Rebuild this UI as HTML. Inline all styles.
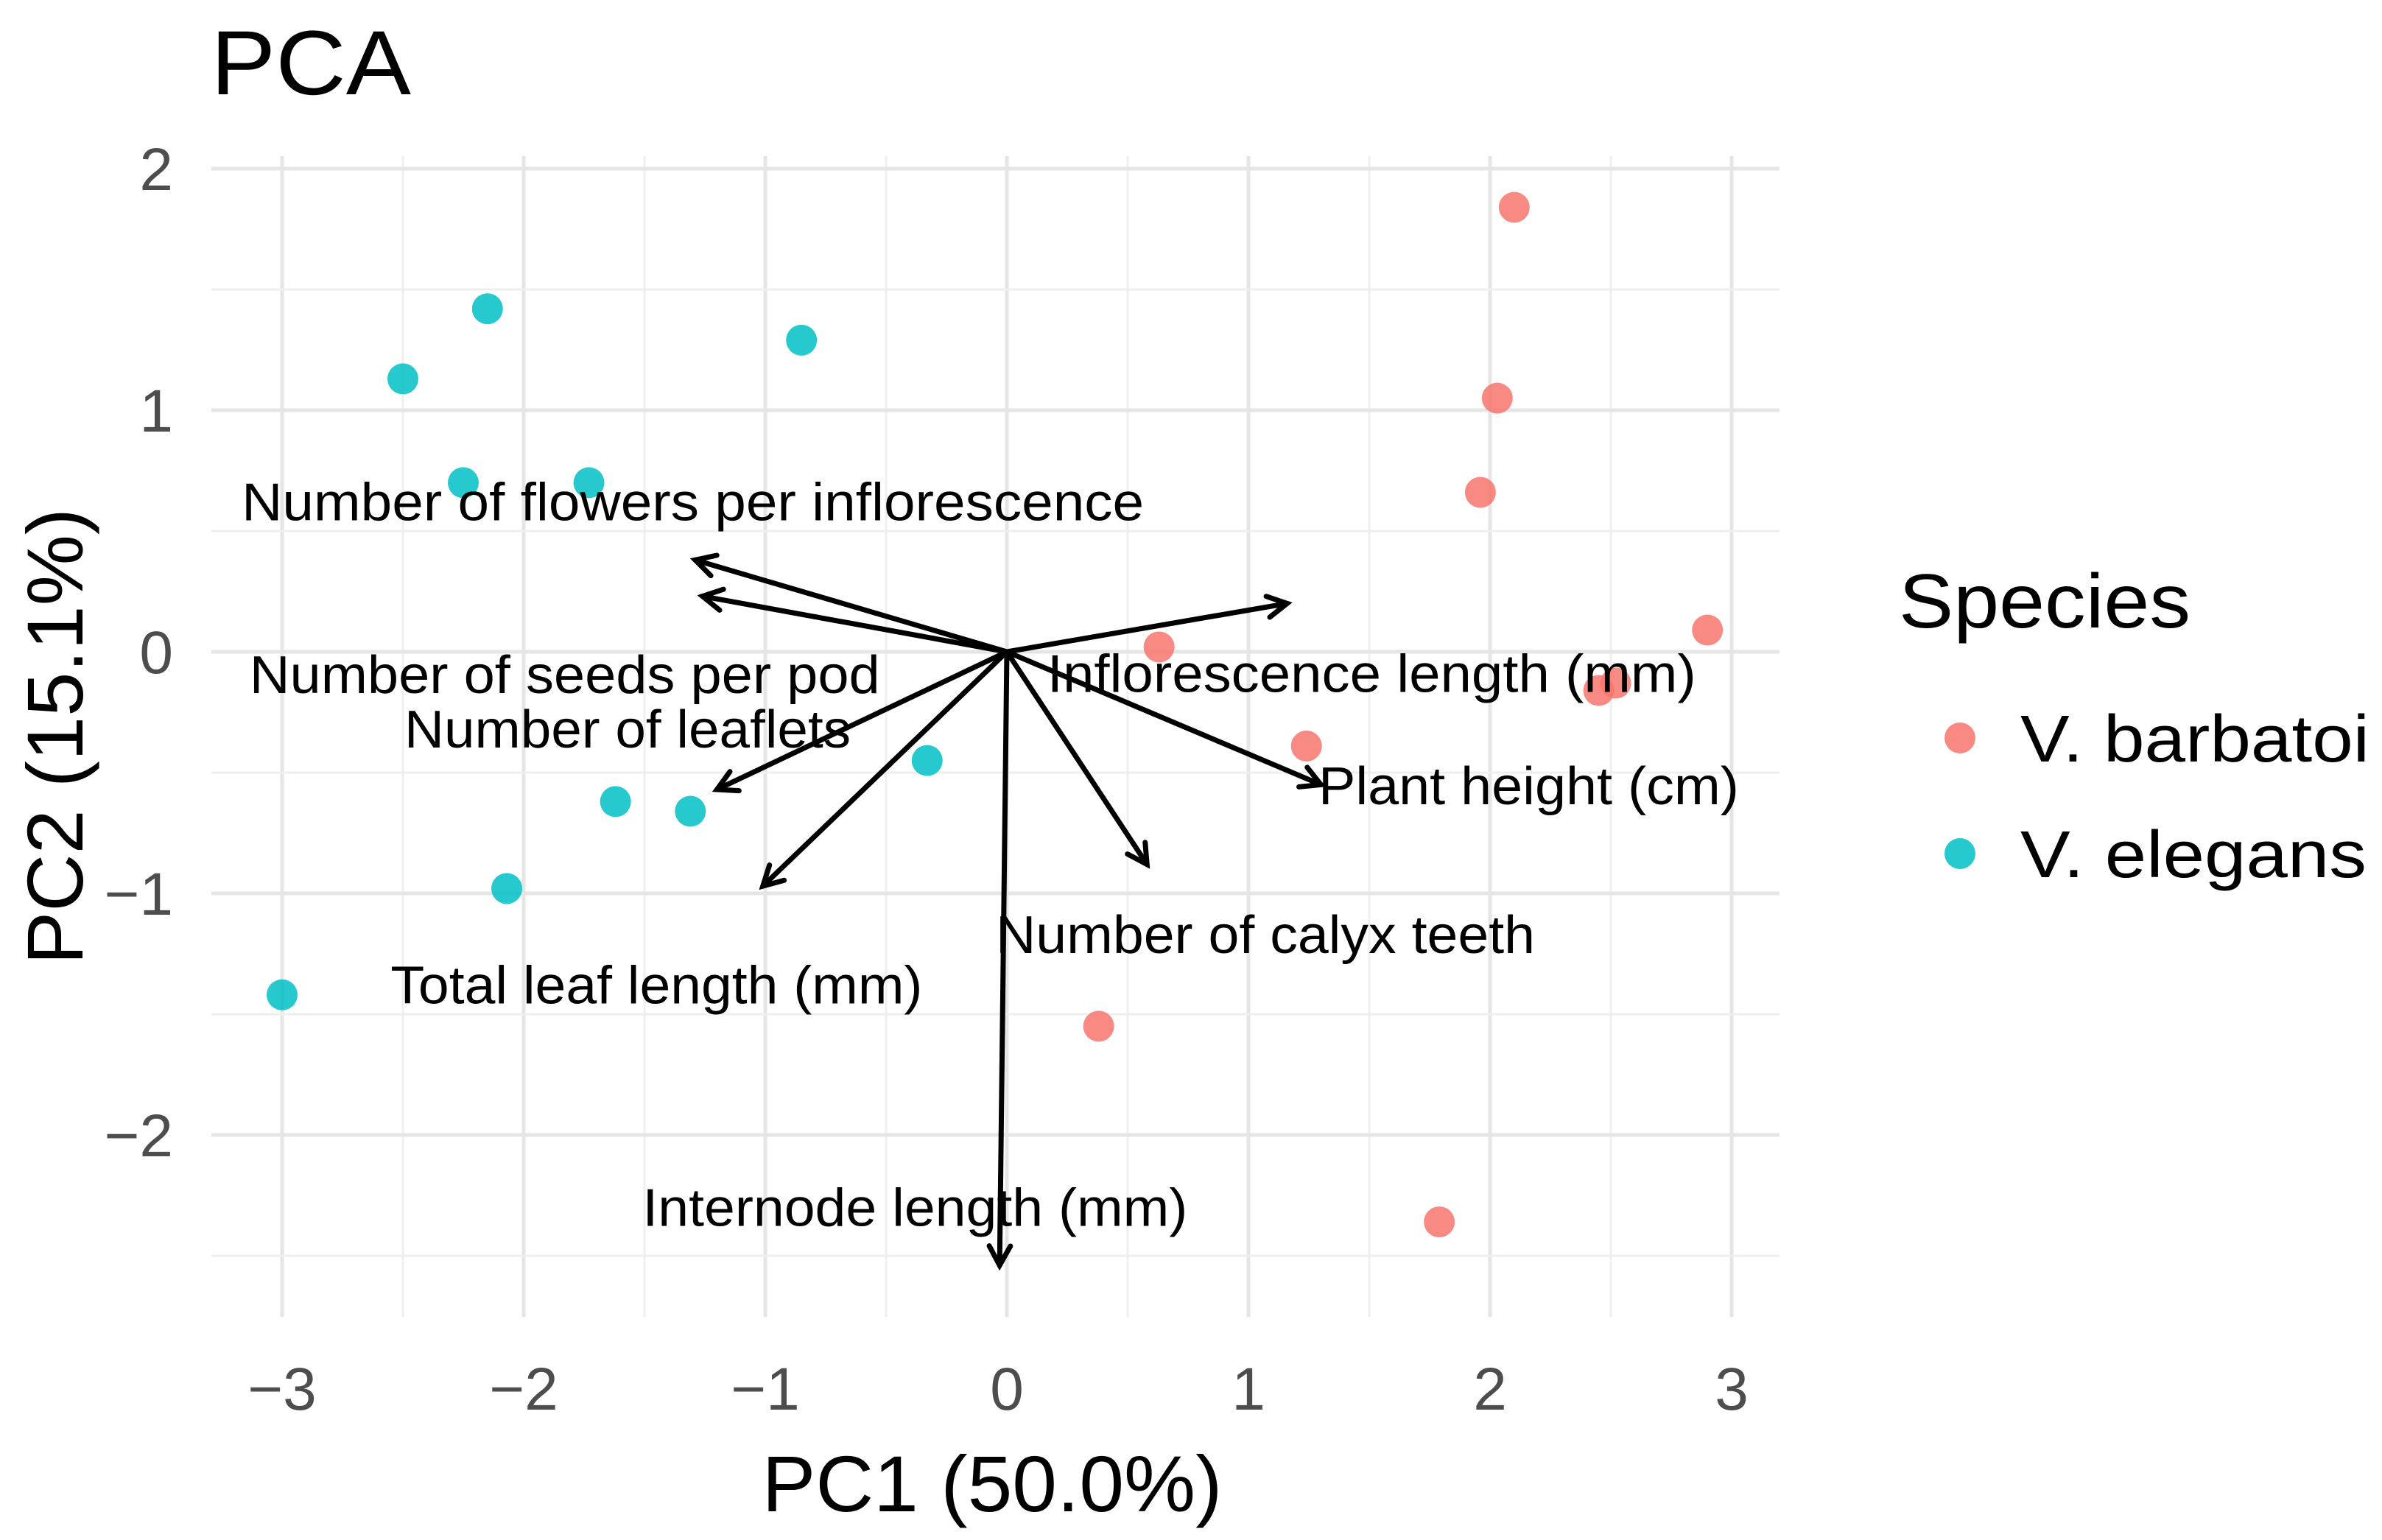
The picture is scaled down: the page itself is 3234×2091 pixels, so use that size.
<!DOCTYPE html>
<html><head><meta charset="utf-8"><style>
html,body{margin:0;padding:0;background:#fff;}
svg{display:block;font-family:"Liberation Sans",Arial,sans-serif;}
</style></head><body>
<svg id="chart" width="3234" height="2091" viewBox="0 0 3234 2091" xmlns="http://www.w3.org/2000/svg">
<text x="286" y="128" font-size="124" fill="#000" textLength="272" lengthAdjust="spacingAndGlyphs">PCA</text>
<g id="grid"></g>
<g id="arrows"></g>
<g id="points"></g>
<g id="labels"></g>
<g id="ticks"></g>
<text x="1347" y="2052" font-size="108" text-anchor="middle" fill="#000" textLength="625" lengthAdjust="spacingAndGlyphs">PC1 (50.0%)</text>
<text transform="translate(112,1000) rotate(-90)" font-size="108" text-anchor="middle" fill="#000" textLength="620" lengthAdjust="spacingAndGlyphs">PC2 (15.1%)</text>
<g>
<text x="2578" y="852" font-size="104" fill="#000" textLength="396" lengthAdjust="spacingAndGlyphs">Species</text>
<circle cx="2661" cy="1002" r="21" fill="#F8766D" fill-opacity="0.85"/>
<text x="2743" y="1034" font-size="90" fill="#000" textLength="474" lengthAdjust="spacingAndGlyphs">V. barbatoi</text>
<circle cx="2661" cy="1159" r="21" fill="#00BFC4" fill-opacity="0.85"/>
<text x="2743" y="1191" font-size="90" fill="#000" textLength="470" lengthAdjust="spacingAndGlyphs">V. elegans</text>
</g>
</svg>
<script>
const xTicks=[-3,-2,-1,0,1,2,3];
const yTicks=[-2,-1,0,1,2];
const elegansX=[-2.5,-2.15,-0.85,-2.25,-1.73,-0.33,-1.62,-1.31,-2.07,-3.0];
const elegansY=[1.13,1.42,1.29,0.7,0.7,-0.45,-0.62,-0.66,-0.98,-1.42];
const barbatoiX=[2.1,2.03,1.96,2.9,0.63,2.45,2.52,1.24,0.38,1.79];
const barbatoiY=[1.84,1.05,0.66,0.09,0.02,-0.16,-0.13,-0.39,-1.55,-2.36];
const loadingNames=["Number of flowers per inflorescence","Number of seeds per pod","Inflorescence length (mm)","Plant height (cm)","Number of calyx teeth","Number of leaflets","Total leaf length (mm)","Internode length (mm)"];
const loadingX=[-1.29,-1.26,1.16,1.30,0.58,-1.2,-1.01,-0.03];
const loadingY=[0.38,0.23,0.2,-0.55,-0.88,-0.57,-0.97,-2.54];
const labelX=[-1.30,-1.83,1.51,2.16,1.07,-1.57,-1.45,-0.38];
const labelY=[0.62,-0.095,-0.09,-0.555,-1.17,-0.32,-1.38,-2.30];

const NS="http://www.w3.org/2000/svg";
const X0=1367,XU=328,Y0=885,YU=328;
const PL=287,PR=2416,PT=212,PB=1788;
const labelWidths=[1225,856,881,571,732,606,722,740];
const sx=v=>X0+v*XU, sy=v=>Y0-v*YU;
function mk(tag,attrs,parent){const e=document.createElementNS(NS,tag);for(const k in attrs)e.setAttribute(k,attrs[k]);parent.appendChild(e);return e;}
const grid=document.getElementById('grid');
for(let v=-3;v<=3.01;v+=0.5){
  const major=Math.abs(v-Math.round(v))<1e-6;
  const l=mk('line',{x1:sx(v),x2:sx(v),y1:PT,y2:PB,stroke:major?'#e5e5e5':'#efefef','stroke-width':major?5:3},grid);
  
  
}
for(let v=-2.5;v<=2.01;v+=0.5){
  const major=Math.abs(v-Math.round(v))<1e-6;
  const l=mk('line',{x1:PL,x2:PR,y1:sy(v),y2:sy(v),stroke:major?'#e5e5e5':'#efefef','stroke-width':major?5:3},grid);
  
  
}
const ticks=document.getElementById('ticks');
xTicks.forEach(t=>{
  const e=mk('text',{x:sx(t),y:1914,'font-size':82,fill:'#4d4d4d','text-anchor':'middle'},ticks);
  e.textContent=(t<0?'\u2212':'')+Math.abs(t);
  
  
});
yTicks.forEach(t=>{
  const e=mk('text',{x:235,y:sy(t)+29,'font-size':82,fill:'#4d4d4d','text-anchor':'end'},ticks);
  e.textContent=(t<0?'\u2212':'')+Math.abs(t);
  
  
});
const pts=document.getElementById('points');
elegansX.forEach((x,i)=>{
  const c=mk('circle',{cx:sx(x),cy:sy(elegansY[i]),r:21,fill:'#00BFC4','fill-opacity':0.85},pts);
  
  
});
barbatoiX.forEach((x,i)=>{
  const c=mk('circle',{cx:sx(x),cy:sy(barbatoiY[i]),r:21,fill:'#F8766D','fill-opacity':0.85},pts);
  
  
});
const arr=document.getElementById('arrows');
loadingX.forEach((x,i)=>{
  const x1=sx(0),y1=sy(0),x2=sx(x),y2=sy(loadingY[i]);
  const g=mk('g',{stroke:'#000','stroke-width':7,fill:'none','stroke-linecap':'round'},arr);
  
  
  mk('line',{x1,y1,x2,y2},g);
  const a=Math.atan2(y2-y1,x2-x1),h=30,s=0.5;
  mk('polyline',{points:`${x2-h*Math.cos(a-s)},${y2-h*Math.sin(a-s)} ${x2},${y2} ${x2-h*Math.cos(a+s)},${y2-h*Math.sin(a+s)}`},g);
});
const lab=document.getElementById('labels');
loadingNames.forEach((n,i)=>{
  const e=mk('text',{x:sx(labelX[i]),y:sy(labelY[i])+25,'font-size':72,fill:'#000','text-anchor':'middle',textLength:labelWidths[i],lengthAdjust:'spacingAndGlyphs'},lab);
  e.textContent=n;
  
  
});
</script>
</body></html>
